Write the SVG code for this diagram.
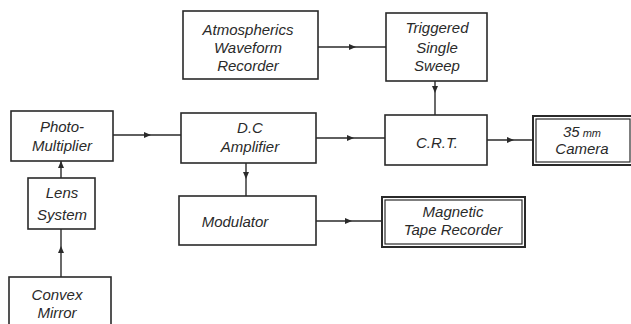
<svg xmlns="http://www.w3.org/2000/svg" width="631" height="324" viewBox="0 0 631 324">
<defs>
<style>
.b{fill:none;stroke:#2a2a2a;stroke-width:1.6}
.o{fill:none;stroke:#2a2a2a;stroke-width:2}
.i{fill:none;stroke:#2a2a2a;stroke-width:1.2}
.l{fill:none;stroke:#2a2a2a;stroke-width:1.4}
.a{fill:#2a2a2a}
text{font-family:"Liberation Sans","DejaVu Sans",sans-serif;font-style:italic;font-size:15px;fill:#2a2a2a;text-anchor:middle}
</style>
</defs>
<rect width="631" height="324" fill="#ffffff"/>
<g id="connectors">
<path class="l" d="M318 47H386"/><path class="a" d="M356 47l-7 -3v6z"/>
<path class="l" d="M435 81V115"/><path class="a" d="M435 93l-3 -7h6z"/>
<path class="l" d="M113 135H181"/><path class="a" d="M151 135l-7 -3v6z"/>
<path class="l" d="M316 138H385"/><path class="a" d="M354 138l-7 -3v6z"/>
<path class="l" d="M487 140H533"/><path class="a" d="M514 140l-7 -3v6z"/>
<path class="l" d="M246 163V196"/><path class="a" d="M246 179l-3 -7h6z"/>
<path class="l" d="M316 221H382"/><path class="a" d="M352 221l-7 -3v6z"/>
<path class="l" d="M61 178V161"/><path class="a" d="M61 161l-3 7h6z"/>
<path class="l" d="M61 277V229"/><path class="a" d="M61 246l-3 7h6z"/>
</g>
<g id="atmospherics"><rect class="b" x="183" y="11" width="135" height="68"/><text x="248" y="35">Atmospherics</text><text x="248" y="53">Waveform</text><text x="248" y="71">Recorder</text></g>
<g id="triggered"><rect class="b" x="386" y="13" width="101" height="68"/><text x="437" y="33">Triggered</text><text x="437" y="53">Single</text><text x="437" y="71">Sweep</text></g>
<g id="photomultiplier"><rect class="b" x="11" y="111" width="102" height="50"/><text x="62" y="132">Photo-</text><text x="62" y="151">Multiplier</text></g>
<g id="dcamp"><rect class="b" x="181" y="113" width="135" height="50"/><text x="250" y="133">D.C</text><text x="250" y="152">Amplifier</text></g>
<g id="crt"><rect class="b" x="385" y="115" width="102" height="50"/><text x="437" y="148">C.R.T.</text></g>
<g id="camera"><rect class="o" x="533" y="116" width="100" height="49"/><rect class="i" x="536" y="119" width="94" height="43"/><text x="582" y="137">35<tspan font-size="11"> mm</tspan></text><text x="582" y="154">Camera</text></g>
<g id="lens"><rect class="b" x="28" y="178" width="67" height="51"/><text x="62" y="198">Lens</text><text x="62" y="220">System</text></g>
<g id="modulator"><rect class="b" x="179" y="196" width="137" height="49"/><text x="235" y="227">Modulator</text></g>
<g id="tape"><rect class="o" x="382" y="197" width="143" height="50"/><rect class="i" x="385" y="200" width="137" height="44"/><text x="453" y="217">Magnetic</text><text x="453" y="235">Tape Recorder</text></g>
<g id="mirror"><rect class="b" x="9" y="277" width="102" height="52"/><text x="57" y="300">Convex</text><text x="57" y="318">Mirror</text></g>
</svg>
